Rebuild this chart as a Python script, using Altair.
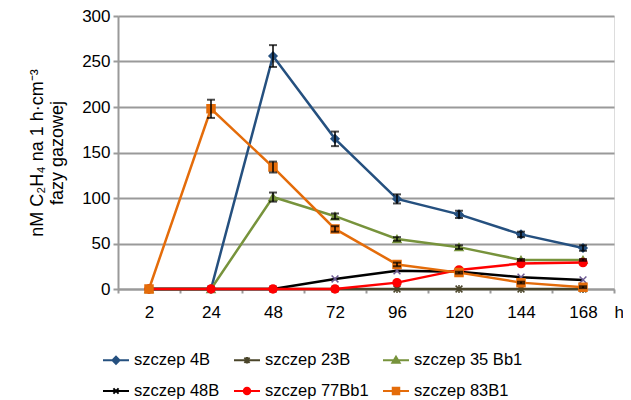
import altair as alt
import pandas as pd

hours = ["2", "24", "48", "72", "96", "120", "144", "168"]
series = ["szczep 4B", "szczep 23B", "szczep 35 Bb1", "szczep 48B", "szczep 77Bb1", "szczep 83B1"]

v_4B = [0, 0, 256, 165, 99, 82, 60, 45]
v_23B = [0, 0, 0, 0, 0, 0, 0, 0]
v_35Bb1 = [0, 0, 101, 80, 55, 46, 32, 32]
v_48B = [0, 0, 0, 11, 20, 19, 13, 10]
v_77Bb1 = [0, 0, 0, 0, 7, 21, 28, 29]
v_83B1 = [0, 198, 134, 66, 27, 18, 7, 2]

e_4B = [0, 0, 12, 8, 5, 4, 3, 3]
e_23B = [0, 0, 0, 0, 0, 0, 0, 0]
e_35Bb1 = [0, 0, 5, 3, 2, 2, 1, 1]
e_48B = [0, 0, 0, 0, 0, 0, 0, 0]
e_77Bb1 = [0, 0, 0, 0, 0, 0, 0, 0]
e_83B1 = [0, 10, 6, 3, 2, 1, 1, 1]

values = [v_4B, v_23B, v_35Bb1, v_48B, v_77Bb1, v_83B1]
errors = [e_4B, e_23B, e_35Bb1, e_48B, e_77Bb1, e_83B1]

line_colors = ["#25507F", "#4A452A", "#77933C", "#000000", "#FF0000", "#E46C0A"]
marker_colors = ["#25507F", "#4A452A", "#77933C", "#6D5A92", "#FF0000", "#E46C0A"]

X_PATH = "M-0.85,-0.85L0.85,0.85M-0.85,0.85L0.85,-0.85"
STAR_PATH = "M-0.85,-0.85L0.85,0.85M-0.85,0.85L0.85,-0.85M0,-1V1"
plot_shapes = ["diamond", STAR_PATH, "triangle-up", X_PATH, "circle", "square"]

LINE = "M-1,0H1"
legend_shapes = [
    LINE + "M0,-0.27L0.27,0L0,0.27L-0.27,0Z",
    LINE + "M-0.2,-0.2L0.2,0.2M-0.2,0.2L0.2,-0.2M0,-0.25V0.25",
    LINE + "M0,-0.27L0.28,0.2L-0.28,0.2Z",
    LINE + "M-0.2,-0.2L0.2,0.2M-0.2,0.2L0.2,-0.2",
    LINE + "M-0.25,0A0.25,0.25,0,1,1,0.25,0A0.25,0.25,0,1,1,-0.25,0Z",
    LINE + "M-0.25,-0.25H0.25V0.25H-0.25Z",
]

rows = []
for s, vals, errs in zip(series, values, errors):
    for h, v, e in zip(hours, vals, errs):
        rows.append({"series": s, "hour": h, "value": v, "err": e,
                     "low": v - e, "high": v + e})
df = pd.DataFrame(rows)

FONT = "Liberation Sans"
GRAY = "#9A9A9A"

x_enc = alt.X("hour:O", sort=hours,
              scale=alt.Scale(type="band", domain=hours, paddingInner=0, paddingOuter=0),
              axis=alt.Axis(tickBand="extent", tickSize=4, tickWidth=2, tickColor=GRAY,
                            domainColor=GRAY, domainWidth=2, labelAngle=0,
                            labelFontSize=17, labelFont=FONT, labelColor="#000",
                            labelPadding=11, grid=False,
                            title="h", titleX=496, titleY=15, titleAlign="left",
                            titleBaseline="top", titleFontSize=17, titleFont=FONT,
                            titleFontWeight="normal", titleColor="#000"))
y_enc = alt.Y("value:Q", scale=alt.Scale(domain=[0, 300], nice=False),
              axis=alt.Axis(values=[0, 50, 100, 150, 200, 250, 300], grid=True,
                            gridColor=GRAY, gridWidth=2, domainColor=GRAY, domainWidth=2,
                            tickColor=GRAY, tickWidth=2, tickSize=5,
                            labelFontSize=17, labelFont=FONT, labelColor="#000",
                            labelPadding=3,
                            title=["nM C₂H₄ na 1 h·cm⁻³", "fazy gazowej"],
                            titleFontSize=18, titleFont=FONT, titleFontWeight="normal",
                            titleColor="#000", titlePadding=15))

base = alt.Chart(df)

lines = base.mark_line(strokeWidth=2.5).encode(
    x=x_enc, y=y_enc,
    color=alt.Color("series:N", scale=alt.Scale(domain=series, range=line_colors), legend=None),
    order=alt.Order("hour_idx:Q"),
).transform_calculate(hour_idx="indexof(" + str(hours) + ", datum.hour)")

points = base.mark_point(filled=True, opacity=1, size=64, strokeWidth=1.5).encode(
    x=x_enc, y=y_enc,
    fill=alt.Fill("series:N", scale=alt.Scale(domain=series, range=marker_colors), legend=None),
    stroke=alt.Stroke("series:N", scale=alt.Scale(domain=series, range=marker_colors), legend=None),
    shape=alt.Shape("series:N", scale=alt.Scale(domain=series, range=plot_shapes), legend=None),
)

err_base = base.transform_filter(alt.datum.err > 0)
err_rule = err_base.mark_rule(color="#000", strokeWidth=1.5).encode(
    x=x_enc, y=alt.Y("low:Q"), y2="high:Q")
err_lo = err_base.mark_tick(color="#000", thickness=2, size=8).encode(x=x_enc, y=alt.Y("low:Q"))
err_hi = err_base.mark_tick(color="#000", thickness=2, size=8).encode(x=x_enc, y=alt.Y("high:Q"))

leg = alt.Legend(title=None, orient="none", legendX=-16, legendY=330, columns=3,
                 direction="horizontal",
                 symbolSize=676, symbolStrokeWidth=2, labelFontSize=16.5, labelFont=FONT,
                 labelColor="#000", labelOffset=4, columnPadding=10, rowPadding=8,
                 padding=0, symbolOpacity=1)

legend_layer = base.transform_filter(alt.datum.value < -1000).mark_point(
    filled=True, opacity=1, strokeWidth=2).encode(
    x=x_enc, y=y_enc,
    fill=alt.Fill("series:N", scale=alt.Scale(domain=series, range=marker_colors), legend=leg),
    stroke=alt.Stroke("series:N", scale=alt.Scale(domain=series, range=line_colors), legend=leg),
    shape=alt.Shape("series:N", scale=alt.Scale(domain=series, range=legend_shapes), legend=leg),
)

chart = alt.layer(lines, points, err_rule, err_lo, err_hi, legend_layer).resolve_scale(
    fill="independent", stroke="independent", shape="independent"
).properties(
    width=496, height=273,
    autosize=alt.AutoSizeParams(type="none"),
    padding={"left": 110, "top": 8, "right": 9, "bottom": 111},
).configure_view(stroke=None).configure(background="white", font=FONT)

chart.save("out.html", embed_options={"renderer": "svg", "actions": False})
